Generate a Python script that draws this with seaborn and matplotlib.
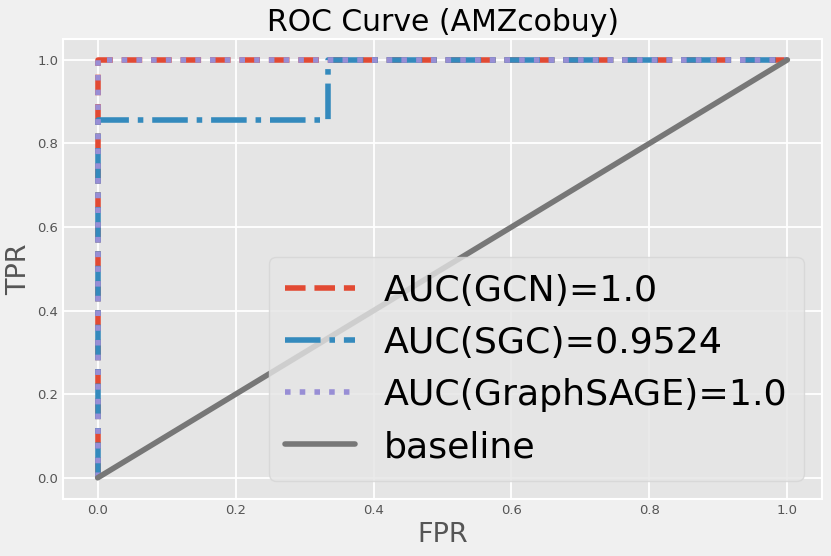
import numpy as np
import pandas as pd
import matplotlib
matplotlib.use('Agg')
import matplotlib.pyplot as plt
import seaborn as sns

# ROC points
gcn_fpr = [0.0, 0.0, 1.0]
gcn_tpr = [0.0, 1.0, 1.0]
sgc_fpr = [0.0, 0.0, 1 / 3, 1 / 3, 1.0]
sgc_tpr = [0.0, 6 / 7, 6 / 7, 1.0, 1.0]
sage_fpr = [0.0, 0.0, 1.0]
sage_tpr = [0.0, 1.0, 1.0]
base_fpr = [0.0, 1.0]
base_tpr = [0.0, 1.0]

labels = ['AUC(GCN)=1.0', 'AUC(SGC)=0.9524', 'AUC(GraphSAGE)=1.0', 'baseline']
colors = ['#E24A33', '#348ABD', '#988ED5', '#777777']
styles = ['--', '-.', ':', '-']

sns.set_style('darkgrid', {
    'axes.facecolor': '#E5E5E5',
    'figure.facecolor': '#F0F0F0',
    'grid.color': 'white',
    'axes.edgecolor': 'white',
    'xtick.color': '#555555',
    'ytick.color': '#555555',
    'axes.labelcolor': '#555555',
    'text.color': 'black',
})
plt.rcParams['font.family'] = ['DejaVu Sans']

fig, ax = plt.subplots(figsize=(8.31, 5.56), dpi=100)
fig.subplots_adjust(left=0.076, right=0.989, top=0.93, bottom=0.103)

curves = [(gcn_fpr, gcn_tpr), (sgc_fpr, sgc_tpr), (sage_fpr, sage_tpr), (base_fpr, base_tpr)]
for (fx, fy), lab, col, ls in zip(curves, labels, colors, styles):
    sns.lineplot(x=fx, y=fy, sort=False, estimator=None, color=col,
                 linestyle=ls, linewidth=4, label=lab, ax=ax)

for sp in ax.spines.values():
    sp.set_visible(True)
    sp.set_color('white')
    sp.set_linewidth(1.5)
ax.grid(True, color='white', linewidth=1.3)
ax.tick_params(labelsize=9.5, length=0)

ax.set_title('ROC Curve (AMZcobuy)', fontsize=21.5, color='black')
ax.set_xlabel('FPR', fontsize=19.5)
ax.set_ylabel('TPR', fontsize=19.5)

leg = ax.legend(loc='lower right', fontsize=26.2, facecolor='#E5E5E5',
                edgecolor='#D5D5D5', framealpha=0.8, handlelength=1.9,
                labelspacing=0.5, borderpad=0.45)
for t in leg.get_texts():
    t.set_color('black')

fig.savefig('out.png', dpi=100, facecolor=fig.get_facecolor())
